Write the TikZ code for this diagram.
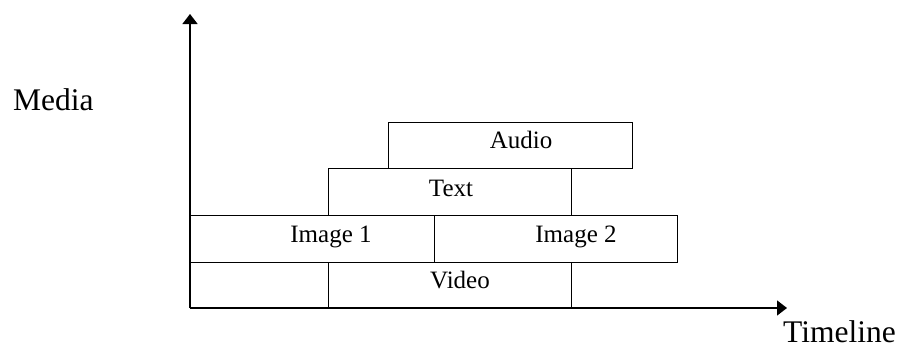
\documentclass[tikz,border=0pt]{standalone}
\usepackage{fontspec}
\setmainfont{Liberation Serif}
\usetikzlibrary{arrows.meta}
\begin{document}
\begin{tikzpicture}[x=1pt,y=-1pt,
  trackbox/.style={draw=black,line width=1.2pt,inner sep=0pt,anchor=north west},
  boxlabel/.style={anchor=base,inner sep=0pt,font=\fontsize{25}{30}\selectfont},
  axislabel/.style={anchor=base west,inner sep=0pt,font=\fontsize{31.5}{36}\selectfont},
  axis/.style={line width=1.4pt,-{Triangle[length=10pt,width=15pt]}}]
\useasboundingbox (0,0) rectangle (899,348);
% track boxes
\node[trackbox,minimum width=138pt,minimum height=46pt] (v0) at (190,262) {};
\node[trackbox,minimum width=243pt,minimum height=46pt] (video) at (328,262) {};
\node[trackbox,minimum width=244pt,minimum height=47pt] (img1) at (190,215) {};
\node[trackbox,minimum width=243pt,minimum height=47pt] (img2) at (434,215) {};
\node[trackbox,minimum width=243pt,minimum height=47pt] (text) at (328,168) {};
\node[trackbox,minimum width=244pt,minimum height=46pt] (audio) at (388,122) {};
% labels
\node[boxlabel] (lvideo) at (460,288) {Video};
\node[boxlabel] (limg1) at (331,242) {Image 1};
\node[boxlabel] (limg2) at (576,242) {Image 2};
\node[boxlabel] (ltext) at (451,196) {Text};
\node[boxlabel] (laudio) at (521,148) {Audio};
% axes
\coordinate (origin) at (190,308);
\coordinate (ytip) at (190,14);
\coordinate (xtip) at (787,308);
\draw[axis] (origin) -- (ytip);
\draw[axis] (origin) -- (xtip);
\node[axislabel] (media) at (13,110) {Media};
\node[axislabel] (timeline) at (783,342) {Timeline};
\end{tikzpicture}
\end{document}
